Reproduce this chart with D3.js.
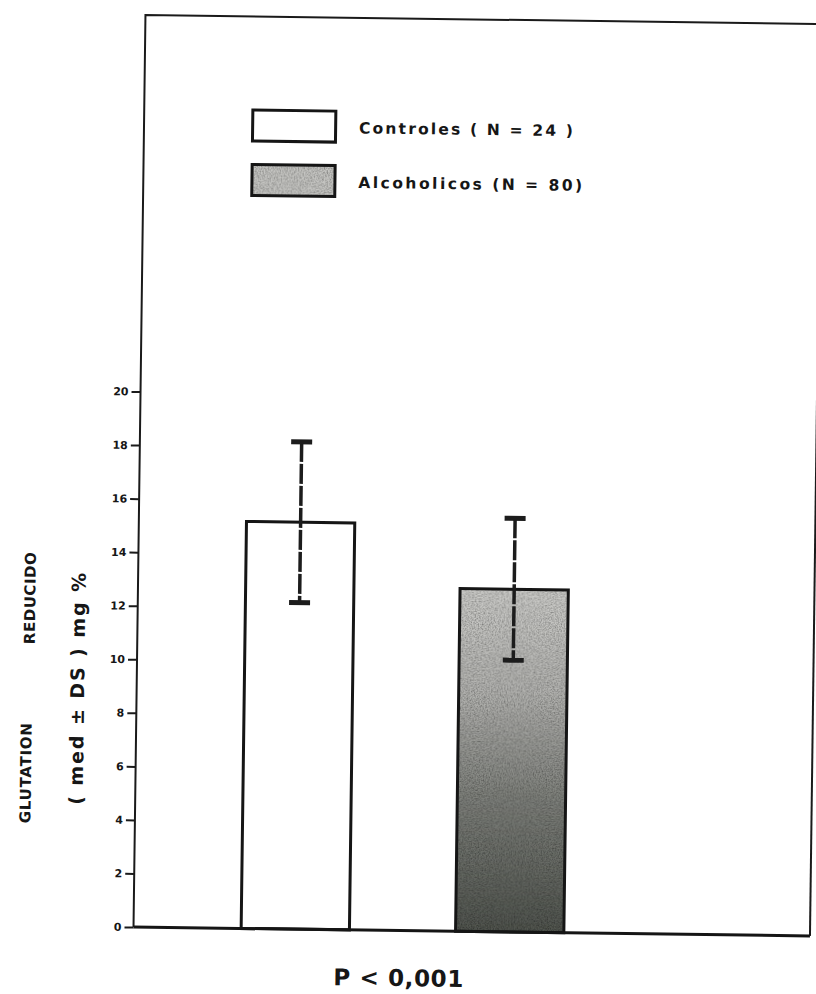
<!DOCTYPE html>
<html>
<head>
<meta charset="utf-8">
<script src="https://cdn.jsdelivr.net/npm/d3@7"></script>
<style>
  html, body { margin: 0; padding: 0; background: #ffffff; }
  svg { display: block; }
  text { font-family: "DejaVu Sans", "Liberation Sans", Arial, sans-serif; font-weight: bold; fill: #161616; }
</style>
</head>
<body>
<div id="chart"></div>
<script>
// ---- data ----
const categories = ["Controles", "Alcoholicos"];
const means = [15.2, 12.8];
const sds = [3.0, 2.65];
const legendLabels = ["Controles  ( N = 24 )", "Alcoholicos  (N = 80)"];
const yTicks = [0, 2, 4, 6, 8, 10, 12, 14, 16, 18, 20];
const yTitleWords = ["GLUTATION", "REDUCIDO"];
const yTitleUnits = "( med \u00B1 DS ) mg %";
const pLabel = "P < 0,001";

// ---- layout ----
const W = 816, H = 994;
const svg = d3.select("#chart").append("svg").attr("width", W).attr("height", H);

const defs = svg.append("defs");
const grad = defs.append("linearGradient").attr("id", "alcGrad")
  .attr("x1", 0).attr("y1", 0).attr("x2", 0).attr("y2", 1);
[["0", "#cdcdca"], ["0.3", "#b3b3b0"], ["0.6", "#80827d"], ["1", "#50544e"]]
  .forEach(([o, c]) => grad.append("stop").attr("offset", o).attr("stop-color", c));

const grain = defs.append("filter").attr("id", "grain")
  .attr("x", 0).attr("y", 0).attr("width", 1).attr("height", 1);
grain.append("feTurbulence").attr("type", "fractalNoise").attr("baseFrequency", 0.7)
  .attr("numOctaves", 2).attr("seed", 4).attr("result", "noise");
grain.append("feColorMatrix").attr("in", "noise").attr("type", "matrix")
  .attr("values", "0 0 0 0 0  0 0 0 0 0  0 0 0 0 0  1.2 0 0 0 -0.4").attr("result", "speck");
grain.append("feComposite").attr("in", "speck").attr("in2", "SourceGraphic")
  .attr("operator", "in").attr("result", "speckIn");
const merge = grain.append("feMerge");
merge.append("feMergeNode").attr("in", "SourceGraphic");
merge.append("feMergeNode").attr("in", "speckIn");

// slight scan rotation
const g = svg.append("g").attr("transform", "rotate(0.75, 475, 931)");

const axisX = 133.5, frameTop = 19.5, frameRight = 810;

const y = d3.scaleLinear().domain([0, 20]).range([931.5, 396]);
const x = d3.scaleBand().domain(categories).range([135, 670]).padding(0.495);

// frame
g.append("path")
  .attr("d", `M${axisX},${y(0)} L${axisX},${frameTop} L${frameRight + 20},${frameTop}`)
  .attr("fill", "none").attr("stroke", "#1a1a1a").attr("stroke-width", 2);
g.append("line")
  .attr("x1", frameRight).attr("x2", frameRight).attr("y1", frameTop).attr("y2", y(0))
  .attr("stroke", "#1a1a1a").attr("stroke-width", 2);

// y axis
const yAxis = g.append("g").attr("transform", `translate(${axisX},0)`)
  .call(d3.axisLeft(y).tickValues(yTicks).tickSize(9).tickPadding(3).tickFormat(d3.format("d")));
yAxis.select(".domain").remove();
yAxis.selectAll(".tick line").attr("stroke", "#1a1a1a").attr("stroke-width", 2);
yAxis.selectAll(".tick text")
  .style("font-family", "'DejaVu Sans', Arial, sans-serif")
  .style("font-weight", "bold").style("font-size", "11px").attr("fill", "#1a1a1a");

// bars
const bars = g.append("g");
bars.selectAll("rect.fillr").data(categories).join("rect")
  .attr("class", "fillr")
  .attr("x", d => x(d)).attr("width", x.bandwidth())
  .attr("y", (d, i) => y(means[i])).attr("height", (d, i) => y(0) - y(means[i]))
  .attr("fill", (d, i) => i === 0 ? "#ffffff" : "url(#alcGrad)")
  .attr("filter", (d, i) => i === 0 ? null : "url(#grain)");
bars.selectAll("rect.outl").data(categories).join("rect")
  .attr("class", "outl")
  .attr("x", d => x(d)).attr("width", x.bandwidth())
  .attr("y", (d, i) => y(means[i])).attr("height", (d, i) => y(0) - y(means[i]))
  .attr("fill", "none").attr("stroke", "#151515").attr("stroke-width", 3);

// baseline
g.append("line").attr("x1", axisX).attr("x2", frameRight).attr("y1", y(0)).attr("y2", y(0))
  .attr("stroke", "#151515").attr("stroke-width", 3);

// error bars
const eb = g.append("g");
categories.forEach((c, i) => {
  const cx = x(c) + x.bandwidth() / 2;
  eb.append("line").attr("x1", cx).attr("x2", cx)
    .attr("y1", y(means[i] + sds[i])).attr("y2", y(means[i] - sds[i]))
    .attr("stroke", "#1c1c1c").attr("stroke-width", 3.5).attr("stroke-dasharray", "20,2");
  [means[i] + sds[i], means[i] - sds[i]].forEach(v => {
    eb.append("line").attr("x1", cx - 10.5).attr("x2", cx + 10.5)
      .attr("y1", y(v)).attr("y2", y(v))
      .attr("stroke", "#1c1c1c").attr("stroke-width", 5);
  });
});

// legend
const legend = g.append("g");
const legendTops = [113, 167.5];
const legendWidths = [214, 224];
categories.forEach((c, i) => {
  legend.append("rect").attr("x", x(categories[0]) + 1).attr("y", legendTops[i])
    .attr("width", 83).attr("height", 31)
    .attr("fill", i === 0 ? "#ffffff" : "#c6c6c3")
    .attr("filter", i === 0 ? null : "url(#grain)");
  legend.append("rect").attr("x", x(categories[0]) + 1).attr("y", legendTops[i])
    .attr("width", 83).attr("height", 31)
    .attr("fill", "none").attr("stroke", "#151515").attr("stroke-width", 3);
  legend.append("text").attr("x", 348.5).attr("y", legendTops[i] + 22)
    .attr("font-size", 15.5).attr("textLength", legendWidths[i]).attr("lengthAdjust", "spacing")
    .text(legendLabels[i]);
});

// y titles
g.append("text").attr("transform", "translate(24,779) rotate(-90)")
  .attr("text-anchor", "middle").attr("dominant-baseline", "central")
  .attr("font-size", 15).attr("textLength", 100).attr("lengthAdjust", "spacing")
  .text(yTitleWords[0]);
g.append("text").attr("transform", "translate(26,604) rotate(-90)")
  .attr("text-anchor", "middle").attr("dominant-baseline", "central")
  .attr("font-size", 15).attr("textLength", 92).attr("lengthAdjust", "spacing")
  .text(yTitleWords[1]);
g.append("text").attr("transform", "translate(74,694) rotate(-90)")
  .attr("text-anchor", "middle").attr("dominant-baseline", "central")
  .attr("font-size", 19).attr("textLength", 232).attr("lengthAdjust", "spacing")
  .text(yTitleUnits);

// p-value
g.append("text").attr("x", 334).attr("y", 987)
  .attr("font-size", 23).attr("textLength", 130).attr("lengthAdjust", "spacing")
  .text(pLabel);
</script>
</body>
</html>
